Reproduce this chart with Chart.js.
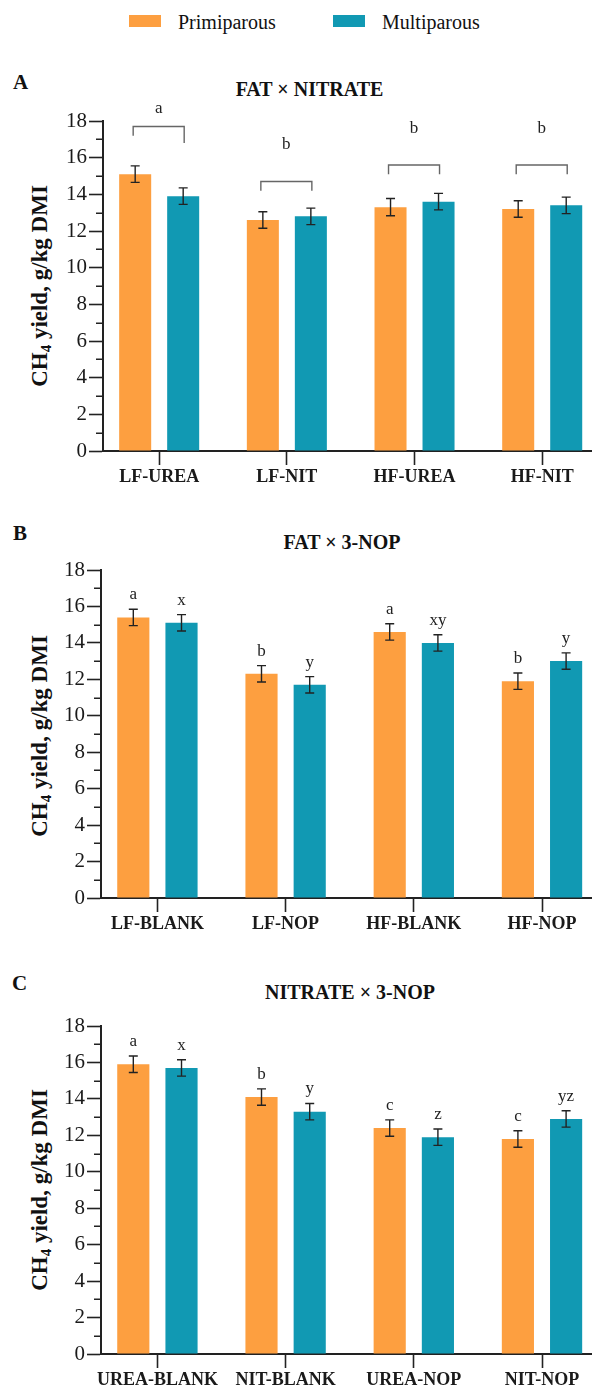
<!DOCTYPE html>
<html><head><meta charset="utf-8">
<script src="https://cdn.jsdelivr.net/npm/chart.js@4/dist/chart.umd.min.js"></script>
<style>
html,body{margin:0;padding:0;background:#fff;width:592px;height:1391px;overflow:hidden;}
body{position:relative;font-family:"Liberation Serif","Times New Roman",serif;color:#111;}
.abs{position:absolute;white-space:nowrap;line-height:1;}
.letter{font-weight:bold;font-size:21px;}
.title{font-weight:bold;font-size:20px;transform:translateX(-50%);}
.legtxt{font-size:20px;}
.sw{position:absolute;width:32px;height:12px;}
canvas{position:absolute;left:0;}
.ytitle{position:absolute;font-weight:bold;font-size:23px;line-height:1;white-space:nowrap;transform:translate(-50%,-50%) rotate(-90deg);}
.ytitle sub{font-size:15px;line-height:0;vertical-align:-4px;}
</style>
</head>
<body>
<div class="sw" style="left:129px;top:15px;background:#FD9F40"></div>
<div class="abs legtxt" style="left:178px;top:11.5px">Primiparous</div>
<div class="sw" style="left:333px;top:15px;background:#1199B3"></div>
<div class="abs legtxt" style="left:382px;top:11.5px">Multiparous</div>

<div class="abs letter" style="left:13px;top:72.3px">A</div>
<div class="abs title" style="left:309.5px;top:78.5px">FAT × NITRATE</div>
<div class="abs letter" style="left:13px;top:523.3px">B</div>
<div class="abs title" style="left:342px;top:531.5px">FAT × 3-NOP</div>
<div class="abs letter" style="left:12px;top:973.3px">C</div>
<div class="abs title" style="left:350px;top:981.5px">NITRATE × 3-NOP</div>

<div class="ytitle" style="left:39px;top:286px">CH<sub>4</sub> yield, g/kg DMI</div>
<div class="ytitle" style="left:39px;top:736px">CH<sub>4</sub> yield, g/kg DMI</div>
<div class="ytitle" style="left:39px;top:1190px">CH<sub>4</sub> yield, g/kg DMI</div>

<canvas id="cA" width="592" height="400" style="top:100px"></canvas>
<canvas id="cB" width="592" height="407" style="top:540px"></canvas>
<canvas id="cC" width="592" height="395" style="top:996px"></canvas>

<script>
// ---------- data ----------
const series = ['Primiparous', 'Multiparous'];

const catsA = ['LF-UREA', 'LF-NIT', 'HF-UREA', 'HF-NIT'];
const primA = [15.1, 12.6, 13.3, 13.2];
const multA = [13.9, 12.8, 13.6, 13.4];
const primErrA = [0.45, 0.45, 0.47, 0.45];
const multErrA = [0.45, 0.45, 0.45, 0.45];
const bracketLettersA = ['a', 'b', 'b', 'b'];
const bracketLevelA = [17.7, 14.7, 15.6, 15.6];
const bracketLegPrimA = [17.2, 14.2, 15.1, 15.1];
const bracketLegMultA = [16.8, 14.2, 15.1, 15.1];
const bracketLetterLevelA = [18.45, 16.45, 17.35, 17.35];

const catsB = ['LF-BLANK', 'LF-NOP', 'HF-BLANK', 'HF-NOP'];
const primB = [15.4, 12.3, 14.6, 11.9];
const multB = [15.1, 11.7, 14.0, 13.0];
const primErrB = [0.45, 0.45, 0.45, 0.45];
const multErrB = [0.45, 0.45, 0.45, 0.45];
const primLettersB = ['a', 'b', 'a', 'b'];
const multLettersB = ['x', 'y', 'xy', 'y'];

const catsC = ['UREA-BLANK', 'NIT-BLANK', 'UREA-NOP', 'NIT-NOP'];
const primC = [15.9, 14.1, 12.4, 11.8];
const multC = [15.7, 13.3, 11.9, 12.9];
const primErrC = [0.45, 0.45, 0.45, 0.45];
const multErrC = [0.45, 0.45, 0.45, 0.45];
const primLettersC = ['a', 'b', 'c', 'c'];
const multLettersC = ['x', 'y', 'z', 'yz'];

// ---------- styles ----------
const ORANGE = '#FD9F40';
const TEAL = '#1199B3';
const SERIF = '"Liberation Serif", "Times New Roman", serif';
const INK = '#1a1a1a';

const errorBarPlugin = {
  id: 'errbars',
  afterDatasetsDraw(chart) {
    const ctx = chart.ctx, ys = chart.scales.y;
    ctx.save();
    ctx.strokeStyle = '#222';
    ctx.lineWidth = 1.4;
    ctx.fillStyle = '#222';
    ctx.font = '17px ' + SERIF;
    ctx.textAlign = 'center';
    ctx.textBaseline = 'alphabetic';
    chart.data.datasets.forEach((ds, di) => {
      const meta = chart.getDatasetMeta(di);
      meta.data.forEach((bar, j) => {
        const v = ds.data[j].y, e = ds.errors[j];
        const yt = ys.getPixelForValue(v + e), yb = ys.getPixelForValue(v - e);
        ctx.beginPath();
        ctx.moveTo(bar.x, yt); ctx.lineTo(bar.x, yb);
        ctx.moveTo(bar.x - 4.5, yt); ctx.lineTo(bar.x + 4.5, yt);
        ctx.moveTo(bar.x - 4.5, yb); ctx.lineTo(bar.x + 4.5, yb);
        ctx.stroke();
        if (ds.letters && ds.letters[j]) ctx.fillText(ds.letters[j], bar.x, yt - 10);
      });
    });
    ctx.restore();
  }
};

const bracketPlugin = {
  id: 'brackets',
  afterDatasetsDraw(chart, args, o) {
    if (!o || !o.levels) return;
    const ctx = chart.ctx, ys = chart.scales.y;
    const m0 = chart.getDatasetMeta(0), m1 = chart.getDatasetMeta(1);
    ctx.save();
    ctx.strokeStyle = '#666';
    ctx.lineWidth = 1.4;
    ctx.fillStyle = '#222';
    ctx.font = '17px ' + SERIF;
    ctx.textAlign = 'center';
    o.levels.forEach((lv, j) => {
      const x1 = m0.data[j].x - 2, x2 = m1.data[j].x + 1;
      const y = ys.getPixelForValue(lv);
      ctx.beginPath();
      ctx.moveTo(x1, ys.getPixelForValue(o.legL[j]));
      ctx.lineTo(x1, y); ctx.lineTo(x2, y);
      ctx.lineTo(x2, ys.getPixelForValue(o.legR[j]));
      ctx.stroke();
      ctx.fillText(o.letters[j], (x1 + x2) / 2, ys.getPixelForValue(o.letterLevels[j]));
    });
    ctx.restore();
  }
};

const minorTickPlugin = {
  id: 'minorTicks',
  afterDraw(chart) {
    const ctx = chart.ctx, ys = chart.scales.y, x = chart.chartArea.left;
    ctx.save();
    ctx.strokeStyle = '#222';
    ctx.lineWidth = 1.5;
    ctx.beginPath();
    for (let v = 1; v < 18; v += 2) {
      const y = Math.round(ys.getPixelForValue(v)) + 0.25;
      ctx.moveTo(x - 7, y); ctx.lineTo(x, y);
    }
    ctx.stroke();
    ctx.restore();
  }
};

function makeChart(id, cats, prim, multi, primErr, multErr, cfg) {
  return new Chart(document.getElementById(id), {
    type: 'bar',
    data: {
      datasets: [
        { label: series[0], data: prim.map((v, i) => ({ x: i, y: v })), errors: primErr,
          letters: cfg.primLetters, backgroundColor: ORANGE, borderWidth: 0,
          categoryPercentage: 0.752, barPercentage: 0.667 },
        { label: series[1], data: multi.map((v, i) => ({ x: i, y: v })), errors: multErr,
          letters: cfg.multLetters, backgroundColor: TEAL, borderWidth: 0,
          categoryPercentage: 0.752, barPercentage: 0.667 }
      ]
    },
    options: {
      responsive: false, animation: false, devicePixelRatio: 1,
      layout: { padding: { top: cfg.padTop, left: 0, right: 0, bottom: 0 } },
      plugins: {
        legend: { display: false }, tooltip: { enabled: false }, title: { display: false },
        brackets: cfg.brackets || {}
      },
      scales: {
        x: {
          type: 'linear', min: -0.44, max: 3.39, offset: false,
          ticks: { autoSkip: false, maxRotation: 0, minRotation: 0, padding: 1.5, color: INK,
                   font: { family: SERIF, size: 18, weight: 'bold', lineHeight: 1.15 },
                   callback: v => (Number.isInteger(v) && cats[v] !== undefined) ? cats[v] : '' },
          grid: { offset: false, drawOnChartArea: false, tickLength: 14, tickColor: '#222', tickWidth: 1.6 },
          border: { color: '#222', width: 2 },
          afterBuildTicks: s => { s.ticks = cats.map((c, i) => ({ value: i })); },
          afterFit: s => { s.height = cfg.xH; s.paddingLeft = 0; s.paddingRight = 0; }
        },
        y: {
          min: 0, max: 18,
          ticks: { stepSize: 2, padding: 2, color: INK, font: { family: SERIF, size: 21 } },
          grid: { drawOnChartArea: false, tickLength: 14, tickColor: '#222', tickWidth: 1.6 },
          border: { color: '#222', width: 2 },
          afterFit: s => { s.width = cfg.axisX; s.paddingTop = 0; s.paddingBottom = 0; }
        }
      }
    },
    plugins: [errorBarPlugin, bracketPlugin, minorTickPlugin]
  });
}

makeChart('cA', catsA, primA, multA, primErrA, multErrA, {
  padTop: 21, xH: 49, axisX: 103,
  brackets: { levels: bracketLevelA, legL: bracketLegPrimA, legR: bracketLegMultA,
              letters: bracketLettersA, letterLevels: bracketLetterLevelA }
});
makeChart('cB', catsB, primB, multB, primErrB, multErrB, {
  padTop: 30, xH: 49, axisX: 101, primLetters: primLettersB, multLetters: multLettersB
});
makeChart('cC', catsC, primC, multC, primErrC, multErrC, {
  padTop: 30, xH: 37, axisX: 101, primLetters: primLettersC, multLetters: multLettersC
});
</script>
</body></html>
